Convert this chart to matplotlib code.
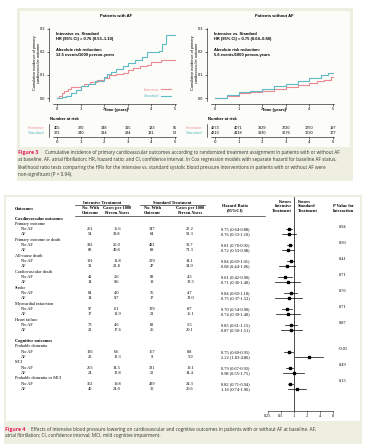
import matplotlib
matplotlib.use("Agg")
import matplotlib.pyplot as plt
from matplotlib.patches import Rectangle
import numpy as np

# ---- Figure 3 data (cumulative incidence) ----
af_int_t = [0, 0.1, 0.2, 0.3, 0.45, 0.6, 1.0, 1.15, 1.4, 1.7, 2.0, 2.2, 2.5, 2.8, 3.0, 3.2, 3.5, 3.8, 4.0, 4.4, 5.0]
af_int_v = [0, 0.01, 0.02, 0.03, 0.04, 0.047, 0.05, 0.06, 0.07, 0.08, 0.087, 0.1, 0.105, 0.11, 0.12, 0.13, 0.137, 0.145, 0.155, 0.165, 0.165]
af_std_t = [0, 0.2, 0.4, 0.6, 0.8, 1.0, 1.3, 1.6, 2.0, 2.1, 2.3, 2.5, 2.8, 3.0, 3.3, 3.6, 3.8, 4.3, 4.45, 4.6, 5.0]
af_std_v = [0, 0.005, 0.01, 0.02, 0.035, 0.05, 0.06, 0.075, 0.09, 0.105, 0.115, 0.125, 0.14, 0.15, 0.165, 0.18, 0.2, 0.205, 0.235, 0.275, 0.275]
noaf_int_t = [0, 0.5, 1, 1.5, 2, 2.5, 3, 3.5, 4, 4.3, 4.6, 4.8, 4.9, 5]
noaf_int_v = [0, 0.01, 0.02, 0.025, 0.03, 0.037, 0.046, 0.055, 0.066, 0.073, 0.08, 0.08, 0.09, 0.09]
noaf_std_t = [0, 0.5, 1, 1.5, 2, 2.5, 3, 3.5, 4, 4.5, 4.8, 5]
noaf_std_v = [0, 0.012, 0.024, 0.032, 0.04, 0.05, 0.061, 0.074, 0.086, 0.1, 0.108, 0.11]

years = [0, 1, 2, 3, 4, 5]
af_risk_int = [405, 370, 348, 315, 133, 55]
af_risk_std = [373, 340, 314, 294, 131, 52]
noaf_risk_int = [4273, 4071, 3929, 3720, 1750, 197]
noaf_risk_std = [4210, 4118, 3930, 3676, 1730, 177]

# ---- Figure 4 data ----
outcomes = ["Primary outcome", "Primary outcome or death", "All-cause death", "Cardiovascular death",
            "Stroke", "Myocardial infarction", "Heart failure",
            "Probable dementia", "MCI", "Probable dementia or MCI"]
subgroups = ["No AF", "AF"]
int_n = [261, 54, 392, 69, 191, 31, 42, 14, 64, 14, 97, 17, 73, 21, 126, 23, 263, 24, 362, 40]
int_rate = ["16.6", "39.8", "25.0", "49.8", "11.8", "21.8", "2.6", "9.6", "4.0", "9.7",
            "6.1", "11.9", "4.6", "17.6", "6.6", "13.3", "14.5", "13.8", "19.8", "24.0"]
std_n = [347, 64, 481, 89, 229, 47, 69, 18, 76, 17, 139, 21, 88, 26, 167, 9, 331, 22, 439, 30]
std_rate = ["22.2", "51.3", "30.7", "71.3", "14.1", "34.9", "4.3", "13.5", "4.7", "13.0",
            "8.7", "16.1", "5.5", "20.1", "8.8", "5.9", "19.1", "14.4", "24.3", "20.6"]
hr = [0.75, 0.76, 0.81, 0.72, 0.84, 0.68, 0.61, 0.71, 0.84, 0.75, 0.70, 0.74, 0.85, 0.87, 0.75, 2.22, 0.79, 0.98, 0.82, 1.16]
hr_lo = [0.64, 0.53, 0.70, 0.53, 0.69, 0.44, 0.42, 0.36, 0.60, 0.37, 0.54, 0.39, 0.61, 0.50, 0.60, 1.03, 0.67, 0.55, 0.71, 0.74]
hr_hi = [0.88, 1.10, 0.92, 0.98, 1.01, 1.06, 0.90, 1.40, 1.18, 1.52, 0.90, 1.40, 1.15, 1.51, 0.95, 4.80, 0.93, 1.75, 0.94, 1.90]
p_int = ["0.94", "0.50", "0.41", "0.71", "0.76", "0.71", "0.87", "<0.01", "0.49", "0.15"]
hr_ticks = [0.25, 0.5, 1, 2, 4, 8]
hr_ticklabels = ["0.25", "0.5", "1", "2", "4", "8"]

PINK = "#e98a93"
TEAL = "#5fbcc6"
CREAM = "#eeefe1"
RED = "#e3205c"
W, H = 367, 444
SANS = "Liberation Sans"
SERIF = "Liberation Serif"
CAP = "Open Sans"

fig = plt.figure(figsize=(W / 100, H / 100), dpi=100)
bg = fig.add_axes([0, 0, 1, 1])
bg.set_xlim(0, W)
bg.set_ylim(H, 0)
bg.axis("off")


def px_axes(x0, y0, x1, y1):
    a = fig.add_axes([x0 / W, 1 - y1 / H, (x1 - x0) / W, (y1 - y0) / H])
    a.set_facecolor("none")
    return a


def t(x, y, s, **kw):
    kw.setdefault("fontsize", 3)
    kw.setdefault("family", SANS)
    kw.setdefault("va", "center")
    bg.text(x, y, s, **kw)


# ---------------- Figure 3 boxes ----------------
bg.add_patch(Rectangle((17, 8), 336, 173, color=CREAM, lw=0))
bg.add_patch(Rectangle((20, 11), 330, 136, color="#fcfcf9", lw=0))


def km_panel(x0, title, it, iv, st, sv, hrtxt, arr, r_int, r_std, ylab_x, legend):
    ax = px_axes(x0, 28, x0 + 123, 101)
    ax.plot(it, iv, drawstyle="steps-post", color=PINK, lw=0.8, label="Intensive")
    ax.plot(st, sv, drawstyle="steps-post", color=TEAL, lw=0.8, label="Standard")
    ax.set_xlim(-0.17, 5.04)
    ax.set_ylim(-0.013, 0.304)
    ax.set_xticks(years)
    ax.set_yticks([0, 0.1, 0.2, 0.3])
    ax.set_yticklabels(["0.0", "0.1", "0.2", "0.3"])
    for s in ["top", "right"]:
        ax.spines[s].set_visible(False)
    ax.spines["left"].set_position(("outward", 3))
    ax.spines["bottom"].set_position(("outward", 2))
    for s in ["left", "bottom"]:
        ax.spines[s].set_linewidth(0.4)
    ax.tick_params(labelsize=2.8, length=1.5, width=0.4, pad=1)
    for lab in ax.get_xticklabels() + ax.get_yticklabels():
        lab.set_family(SANS)
    ax.text(-0.05, 0.285, "Intensive vs. Standard\n" + hrtxt, fontsize=2.9, fontweight="bold",
            family=SANS, va="top", linespacing=1.3)
    ax.text(-0.05, 0.215, "Absolute risk reduction:\n" + arr, fontsize=2.9, fontweight="bold",
            family=SANS, va="top", linespacing=1.3)
    if legend:
        ax.legend(loc="lower right", bbox_to_anchor=(0.97, 0.02), frameon=False, markerfirst=False,
                  labelcolor="linecolor", prop={"family": SANS, "size": 2.8}, handlelength=2.5,
                  borderaxespad=0, labelspacing=0.6, handletextpad=0.5)
    t(x0 + 63, 16, title, fontweight="bold", ha="center")
    t(x0 + 63, 110, "Time (years)", fontweight="bold", ha="center")
    t(ylab_x, 63, "Cumulative incidence of primary\ncardiovascular outcome", rotation=90,
      ha="center", fontsize=2.8, linespacing=1.2)

    # number at risk
    rk = px_axes(x0, 124, x0 + 123, 137)
    rk.set_xlim(-0.17, 5.04)
    rk.set_ylim(0, 1)
    for i, yr in enumerate(years):
        rk.text(yr, 0.68, str(r_int[i]), fontsize=2.8, family=SANS, ha="center", va="center")
        rk.text(yr, 0.28, str(r_std[i]), fontsize=2.8, family=SANS, ha="center", va="center")
    rk.set_xticks(years)
    rk.set_yticks([])
    for s in ["top", "right"]:
        rk.spines[s].set_visible(False)
    for s in ["left", "bottom"]:
        rk.spines[s].set_linewidth(0.4)
    rk.spines["left"].set_position(("outward", 3))
    rk.tick_params(labelsize=2.8, length=1.5, width=0.4, pad=1)
    t(x0 - 3, 119, "Number at risk", fontweight="bold")
    t(x0 - 25, 128, "Intensive", color=PINK)
    t(x0 - 25, 133, "Standard", color=TEAL)


km_panel(53, "Patients with AF", af_int_t, af_int_v, af_std_t, af_std_v,
         "HR (95% CI) = 0.76 (0.53\u20131.10)", "12.5 events/1000 person-years",
         af_risk_int, af_risk_std, 37, True)
km_panel(211, "Patients without AF", noaf_int_t, noaf_int_v, noaf_std_t, noaf_std_v,
         "HR (95% CI) = 0.75 (0.64\u20130.88)", "5.6 events/1000 person-years",
         noaf_risk_int, noaf_risk_std, 195, False)

cap3 = ["Cumulative incidence of primary cardiovascular outcomes according to randomized treatment assignment in patients with or without AF",
        "at baseline. AF, atrial fibrillation; HR, hazard ratio; and CI, confidence interval. In Cox regression models with separate hazard for baseline AF status,",
        "likelihood ratio tests comparing the HRs for the intensive vs. standard systolic blood pressure interventions in patients with or without AF were",
        "non-significant (P = 0.94)."]
t(18, 152, "Figure 3", color=RED, fontweight="bold", family=CAP, fontsize=3.7)
t(45, 152, cap3[0], family=CAP, fontsize=3.3, color="#333333")
for i in range(1, 4):
    t(18, 152 + 7.5 * i, cap3[i], family=CAP, fontsize=3.3, color="#333333")

# ---------------- Figure 4 ----------------
bg.add_patch(Rectangle((4, 195), 358, 249, color=CREAM, lw=0))
bg.add_patch(Rectangle((6, 197), 354, 224, color="white", lw=0))

ser = dict(family=SERIF, fontsize=3.2)
t(15, 209, "Outcomes", fontweight="bold", **ser)
t(102, 202.5, "Intensive Treatment", fontweight="bold", ha="center", **ser)
t(172, 202.5, "Standard Treatment", fontweight="bold", ha="center", **ser)
bg.plot([75, 129], [205, 205], color="k", lw=0.4)
bg.plot([140, 205], [205, 205], color="k", lw=0.4)
for cx, l1, l2 in [(90, "No. With", "Outcome"), (117, "Cases per 1000", "Person-Years"),
                   (152, "No. With", "Outcome"), (190, "Cases per 1000", "Person-Years")]:
    t(cx, 208, l1, fontweight="bold", ha="center", **ser)
    t(cx, 212.5, l2, fontweight="bold", ha="center", **ser)
t(235, 206, "Hazard Ratio", fontweight="bold", ha="center", **ser)
t(235, 210.5, "(95%CI)", fontweight="bold", ha="center", **ser)
bg.plot([75, 265], [216, 216], color="k", lw=0.4)
for i, s in enumerate(["Favors", "Intensive", "Treatment"]):
    t(292, 202 + 4.3 * i, s, fontweight="bold", ha="right", **ser)
for i, s in enumerate(["Favors", "Standard", "Treatment"]):
    t(298, 202 + 4.3 * i, s, fontweight="bold", ha="left", **ser)
t(343, 206, "P Value for", fontweight="bold", ha="center", **ser)
t(343, 210.5, "Interaction", fontweight="bold", ha="center", **ser)

row0, step = 218.5, 5.33
fr = px_axes(262, 195, 339, 411)
fr.set_xscale("log")
fr.set_xlim(0.25 * 2 ** (-6 / 13), 8 * 2 ** (6 / 13))
fr.set_ylim(411, 195)
fr.axvline(1, ymin=0, ymax=(411 - 197) / 216, color="k", lw=0.5)

t(15, row0, "Cardiovascular outcomes", fontweight="bold", **ser)
t(15, row0 + 23 * step, "Cognitive outcomes", fontweight="bold", **ser)
for k, name in enumerate(outcomes):
    r = 1 + 3 * k + (2 if k >= 7 else 0)
    yc = row0 + r * step
    t(15, yc, name, **ser)
    t(343, yc + 3, p_int[k], ha="center", **ser)
    for j, sg in enumerate(subgroups):
        idx = 2 * k + j
        y = yc + (j + 1) * step
        t(21, y, sg, **ser)
        t(90, y, str(int_n[idx]), ha="center", **ser)
        t(117, y, int_rate[idx], ha="center", **ser)
        t(152, y, str(std_n[idx]), ha="center", **ser)
        t(190, y, std_rate[idx], ha="center", **ser)
        t(235, y, f"{hr[idx]:.2f} ({hr_lo[idx]:.2f}-{hr_hi[idx]:.2f})", ha="center", **ser)
        fr.plot([hr_lo[idx], hr_hi[idx]], [y, y], color="k", lw=0.5)
        fr.plot(hr[idx], y, marker="s", color="k", markersize=1.6, lw=0)

fr.set_xticks(hr_ticks)
fr.set_xticklabels(hr_ticklabels)
fr.xaxis.set_minor_locator(matplotlib.ticker.NullLocator())
fr.set_yticks([])
for s in ["top", "right", "left"]:
    fr.spines[s].set_visible(False)
fr.spines["bottom"].set_bounds(0.25, 8)
fr.spines["bottom"].set_linewidth(0.4)
fr.tick_params(labelsize=3.1, length=1.5, width=0.4, pad=1)
for lab in fr.get_xticklabels():
    lab.set_family(SERIF)

t(5, 429, "Figure 4", color=RED, fontweight="bold", family=CAP, fontsize=3.7)
t(31, 429, "Effects of intensive blood pressure lowering on cardiovascular and cognitive outcomes in patients with or without AF at baseline. AF,",
  family=CAP, fontsize=3.3, color="#333333")
t(5, 435.5, "atrial fibrillation; CI, confidence interval; MCI, mild cognitive impairment.",
  family=CAP, fontsize=3.3, color="#333333")

fig.savefig("out.png", dpi=100)
